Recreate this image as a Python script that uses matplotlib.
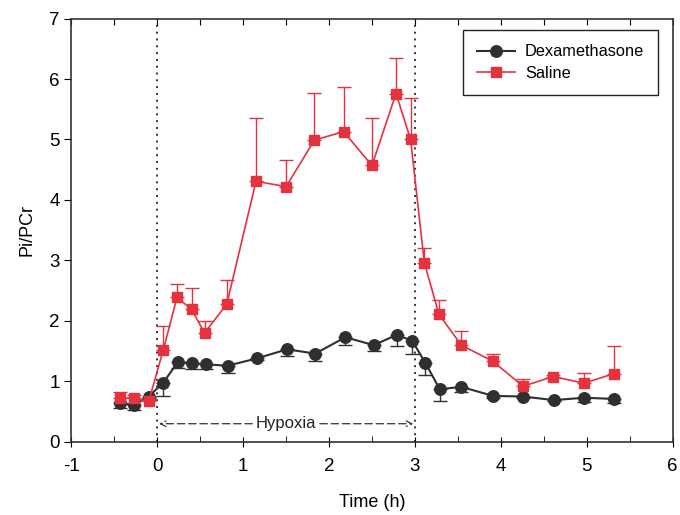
import numpy as np
import matplotlib
matplotlib.use('Agg')
import matplotlib.pyplot as plt
from matplotlib.ticker import MultipleLocator

plt.rcParams['font.family'] = ['Liberation Sans', 'DejaVu Sans']
plt.rcParams['axes.unicode_minus'] = False

# time points (h)
t_dex = [-0.43, -0.27, -0.10, 0.07, 0.24, 0.41, 0.57, 0.82, 1.16, 1.51, 1.84, 2.19,
         2.52, 2.79, 2.97, 3.12, 3.29, 3.54, 3.91, 4.26, 4.62, 4.97, 5.32]
dex = [0.64, 0.61, 0.75, 0.98, 1.32, 1.30, 1.28, 1.26, 1.38, 1.53, 1.46, 1.73,
       1.60, 1.77, 1.67, 1.31, 0.87, 0.91, 0.76, 0.75, 0.69, 0.73, 0.71]
dex_err = [0.08, 0.08, 0.03, 0.22, 0.10, 0.10, 0.08, 0.12, 0.03, 0.11, 0.12, 0.13,
           0.09, 0.18, 0.21, 0.20, 0.19, 0.08, 0.03, 0.03, 0.02, 0.07, 0.06]

t_sal = [-0.43, -0.27, -0.10, 0.07, 0.23, 0.40, 0.55, 0.81, 1.15, 1.50, 1.83, 2.17,
         2.50, 2.78, 2.95, 3.11, 3.28, 3.54, 3.91, 4.26, 4.61, 4.97, 5.32]
sal = [0.73, 0.72, 0.67, 1.52, 2.39, 2.19, 1.80, 2.28, 4.31, 4.22, 4.99, 5.13,
       4.57, 5.76, 5.00, 2.96, 2.11, 1.60, 1.33, 0.92, 1.08, 0.97, 1.13]
sal_err = [0.10, 0.05, 0.03, 0.39, 0.22, 0.35, 0.20, 0.39, 1.04, 0.44, 0.78, 0.73,
           0.79, 0.59, 0.69, 0.25, 0.23, 0.24, 0.12, 0.12, 0.02, 0.17, 0.45]

red = '#e5323f'
dark = '#2f2f2f'

fig = plt.figure(figsize=(6.8, 5.15), dpi=100)
ax = fig.add_axes([0.105, 0.142, 0.884, 0.822])

# error bars: dexamethasone downward, saline upward
ax.errorbar(t_dex, dex, yerr=[dex_err, np.zeros(len(dex))], fmt='none',
            ecolor=dark, elinewidth=1.0, capsize=5, capthick=1.0, zorder=2)
ax.plot(t_dex, dex, '-o', color=dark, lw=1.5, markersize=8.3,
        label='Dexamethasone', zorder=3)
ax.errorbar(t_sal, sal, yerr=[np.zeros(len(sal)), sal_err], fmt='none',
            ecolor=red, elinewidth=1.0, capsize=5, capthick=1.0, zorder=4)
ax.plot(t_sal, sal, '-s', color=red, lw=1.2, markersize=7.8,
        label='Saline', zorder=5)

# hypoxia period
for xv in (0, 3):
    ax.axvline(xv, color='#333333', ls=(0, (1, 2.5)), lw=1.4, zorder=1)
ax.annotate('', xy=(0.02, 0.3), xytext=(1.5, 0.3),
            arrowprops=dict(arrowstyle='->', ls=(0, (6, 3)), lw=0.9, color='#333333',
                            shrinkA=0, shrinkB=0))
ax.annotate('', xy=(2.98, 0.3), xytext=(1.5, 0.3),
            arrowprops=dict(arrowstyle='->', ls=(0, (6, 3)), lw=0.9, color='#333333',
                            shrinkA=0, shrinkB=0))
ax.text(1.5, 0.3, 'Hypoxia', ha='center', va='center', fontsize=12, color='#222222',
        bbox=dict(facecolor='white', edgecolor='none', pad=1.5), zorder=6)

ax.set_xlim(-1, 6)
ax.set_ylim(0, 7)
ax.xaxis.set_major_locator(MultipleLocator(1))
ax.xaxis.set_minor_locator(MultipleLocator(0.5))
ax.yaxis.set_major_locator(MultipleLocator(1))
ax.tick_params(axis='x', which='major', direction='inout', length=7, labelsize=13.5, pad=8)
ax.tick_params(axis='x', which='minor', direction='in', length=4)
ax.tick_params(axis='y', which='major', direction='out', length=5, labelsize=13.5)

top = ax.secondary_xaxis('top')
top.set_xticks(np.arange(-1, 6.01, 0.5))
top.tick_params(direction='in', length=4, labeltop=False)

for s in ax.spines.values():
    s.set_color('#333333')
    s.set_linewidth(1.2)
top.spines['top'].set_visible(False)

ax.set_xlabel('Time (h)', fontsize=13, labelpad=14)
ax.set_ylabel('Pi/PCr', fontsize=13, labelpad=10)

leg = ax.legend(loc='upper right', bbox_to_anchor=(0.976, 0.972), fancybox=False,
                edgecolor='#222222', fontsize=11.8, handlelength=2.3, handletextpad=0.6,
                framealpha=1, borderpad=0.85, labelspacing=0.4, borderaxespad=0)
leg.get_frame().set_linewidth(1.0)

fig.savefig('out.png', dpi=100)
